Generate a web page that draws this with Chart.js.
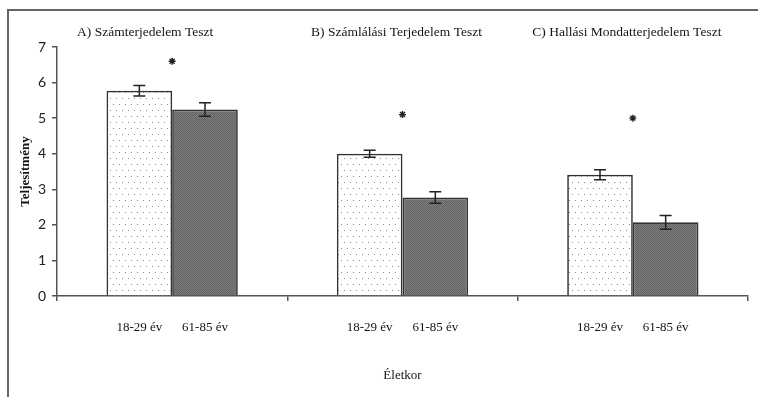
<!DOCTYPE html>
<html>
<head>
<meta charset="utf-8">
<script src="https://cdn.jsdelivr.net/npm/chart.js@4"></script>
<style>
  body { margin: 0; background: #fff; }
  #chart { display: block; }
</style>
</head>
<body>
<canvas id="chart" width="758" height="397"></canvas>
<script>
const chartElement = document.getElementById('chart');

// Data
const tests = ['A) Számterjedelem Teszt', 'B) Számlálási Terjedelem Teszt', 'C) Hallási Mondatterjedelem Teszt'];
const ageGroups = ['18-29 év', '61-85 év'];
const youngMeans = [5.77, 4.0, 3.41];
const youngErrors = [0.15, 0.1, 0.14];
const oldMeans = [5.24, 2.77, 2.07];
const oldErrors = [0.19, 0.16, 0.19];
const starLevels = [6.6, 5.1, 5.0]; // where the * marks sit
const yMin = 0;
const yMax = 7;

const serif = 'Liberation Serif';
const ink = '#151515';

// dotted fill for the young group
function dotPattern() {
  const c = document.createElement('canvas');
  c.width = 12; c.height = 12;
  const g = c.getContext('2d');
  g.fillStyle = '#ffffff';
  g.fillRect(0, 0, 12, 12);
  g.fillStyle = '#8a8a8a';
  [[2, 2], [8, 2], [5, 8], [11, 8]].forEach(([x, y]) => g.fillRect(x, y, 1, 1));
  return chartElement.getContext('2d').createPattern(c, 'repeat');
}

// fine dark mesh for the old group
function meshPattern() {
  const c = document.createElement('canvas');
  c.width = 2; c.height = 2;
  const g = c.getContext('2d');
  g.fillStyle = '#7e7e7e';
  g.fillRect(0, 0, 2, 2);
  g.fillStyle = '#626262';
  g.fillRect(0, 0, 1, 1);
  g.fillRect(1, 1, 1, 1);
  return chartElement.getContext('2d').createPattern(c, 'repeat');
}

// outer frame of the figure
const framePlugin = {
  id: 'frame',
  beforeDraw(chart) {
    const ctx = chart.ctx;
    ctx.save();
    ctx.strokeStyle = '#666';
    ctx.lineWidth = 2;
    ctx.beginPath();
    ctx.moveTo(8, chart.height);
    ctx.lineTo(8, 10);
    ctx.lineTo(chart.width, 10);
    ctx.stroke();
    ctx.restore();
  }
};

// error bars from each dataset's errors array
const errorBarPlugin = {
  id: 'errorBars',
  afterDatasetsDraw(chart) {
    const ctx = chart.ctx;
    const y = chart.scales.y;
    ctx.save();
    ctx.strokeStyle = '#222';
    ctx.lineWidth = 1.5;
    chart.data.datasets.forEach((ds, i) => {
      if (!ds.errors) return;
      chart.getDatasetMeta(i).data.forEach((bar, j) => {
        const top = y.getPixelForValue(ds.data[j] + ds.errors[j]);
        const bot = y.getPixelForValue(ds.data[j] - ds.errors[j]);
        ctx.beginPath();
        ctx.moveTo(bar.x, top); ctx.lineTo(bar.x, bot);
        ctx.moveTo(bar.x - 6, top); ctx.lineTo(bar.x + 6, top);
        ctx.moveTo(bar.x - 6, bot); ctx.lineTo(bar.x + 6, bot);
        ctx.stroke();
      });
    });
    ctx.restore();
  }
};

// panel titles above each category and age labels under each bar
const labelPlugin = {
  id: 'labels',
  afterDraw(chart, args, opts) {
    const ctx = chart.ctx;
    const x = chart.scales.x;
    ctx.save();
    ctx.fillStyle = ink;
    ctx.textAlign = 'center';
    ctx.textBaseline = 'middle';
    ctx.font = '13.5px "' + serif + '"';
    tests.forEach((t, i) => {
      ctx.fillText(t, x.getPixelForValue(i) + opts.titleShift[i], 32);
    });
    ctx.font = '13px "' + serif + '"';
    [0, 1].forEach(d => {
      chart.getDatasetMeta(d).data.forEach(bar => {
        ctx.fillText(ageGroups[d], bar.x, 328);
      });
    });
    ctx.restore();
  }
};

new Chart(chartElement, {
  data: {
    labels: tests,
    datasets: [
      {
        type: 'bar',
        label: ageGroups[0],
        data: youngMeans,
        errors: youngErrors,
        backgroundColor: dotPattern(),
        borderColor: '#333',
        borderWidth: 1.7,
        categoryPercentage: 0.57,
        barPercentage: 1.0,
        order: 2
      },
      {
        type: 'bar',
        label: ageGroups[1],
        data: oldMeans,
        errors: oldErrors,
        backgroundColor: meshPattern(),
        borderColor: '#333',
        borderWidth: 1.7,
        categoryPercentage: 0.57,
        barPercentage: 1.0,
        order: 2
      },
      {
        type: 'line',
        label: '*',
        data: starLevels,
        showLine: false,
        pointStyle: 'star',
        pointRadius: 3.5,
        borderColor: '#222',
        borderWidth: 1.4,
        order: 1
      }
    ]
  },
  options: {
    responsive: false,
    animation: false,
    events: [],
    layout: { padding: { top: 47, right: 10, bottom: 0, left: 0 } },
    plugins: {
      legend: { display: false },
      tooltip: { enabled: false },
      labels: { titleShift: [-27, -6, -6] }
    },
    scales: {
      x: {
        type: 'category',
        offset: true,
        grid: { drawOnChartArea: false, offset: true, tickLength: 5, color: '#555', lineWidth: 1.5 },
        border: { color: '#555', width: 1.5 },
        ticks: { display: false },
        title: {
          display: true,
          text: 'Életkor',
          color: ink,
          font: { family: serif, size: 13 },
          padding: { top: 0, bottom: 14 }
        },
        afterFit: s => { s.height = 101; }
      },
      y: {
        min: yMin,
        max: yMax,
        ticks: { stepSize: 1, padding: 6, color: '#222', font: { family: 'Lato', size: 14 } },
        grid: { drawOnChartArea: false, tickLength: 5, color: '#555', lineWidth: 1.5 },
        border: { color: '#555', width: 1.5 },
        title: {
          display: true,
          text: 'Teljesítmény',
          color: ink,
          font: { family: serif, size: 13, weight: 'bold' },
          padding: { top: 18, bottom: 0 }
        },
        afterFit: s => { s.width = 57; }
      }
    }
  },
  plugins: [framePlugin, errorBarPlugin, labelPlugin]
});
</script>
</body>
</html>
